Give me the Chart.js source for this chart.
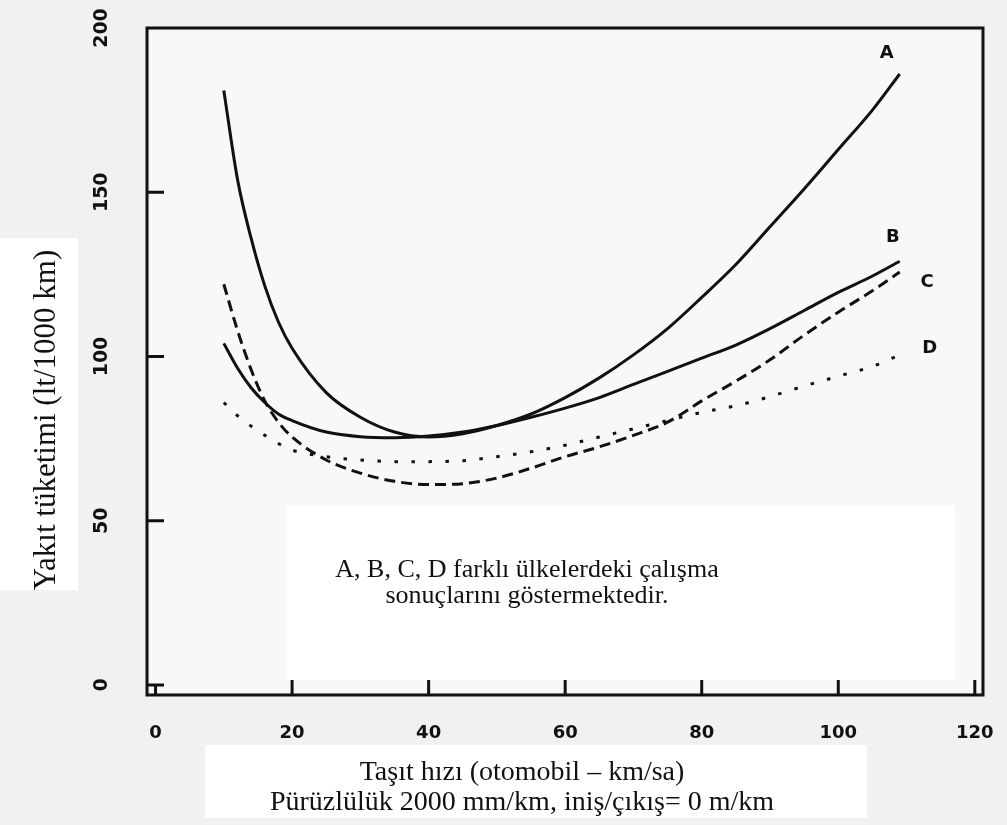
<!DOCTYPE html>
<html lang="tr">
<head>
<meta charset="utf-8">
<title>Yakıt tüketimi - taşıt hızı</title>
<script src="https://cdn.jsdelivr.net/npm/chart.js@4.4.1/dist/chart.umd.min.js"></script>
<style>
  html, body { margin: 0; padding: 0; background: #f1f1f1; }
  #wrap { width: 1007px; height: 825px; }
</style>
</head>
<body>
<div id="wrap"><canvas id="fuelChart" width="1007" height="825"></canvas></div>
<script>
// Hız (km/sa) ve her eğri için yakıt tüketimi (lt/1000 km)
const speeds  = [10, 12, 14, 16, 18, 20, 25, 30, 35, 40, 45, 50, 55, 60, 65, 70, 75, 80, 85, 90, 95, 100, 105, 109];
const seriesA = [181, 154, 136, 121.5, 110.5, 102.5, 89, 81.5, 77, 75.5, 76.5, 79, 82.5, 87.5, 93.5, 100.5, 108.5, 118, 128, 139.5, 151, 163, 175, 186];
const seriesB = [104, 96.5, 90.5, 86, 82.5, 80.5, 77, 75.6, 75.3, 75.8, 77, 79, 81.5, 84.3, 87.5, 91.5, 95.5, 99.5, 103.5, 108.5, 114, 119.5, 124.5, 129];
const seriesC = [122, 108, 96, 86.5, 80, 75.5, 68.5, 64.5, 62, 61, 61.3, 63, 66, 69.5, 72.5, 76, 80, 86.5, 92.5, 99, 106.5, 113.5, 120, 125.7];
const seriesD = [86, 82, 78.8, 76, 73.5, 71.5, 69.5, 68.5, 68, 68, 68.3, 69.5, 71, 73, 75.5, 78, 80.5, 83, 85, 87.8, 91, 94, 97, 100.5];
const curveNames = ['A', 'B', 'C', 'D'];
const xTicks = [0, 20, 40, 60, 80, 100, 120];
const yTicks = [0, 50, 100, 150, 200];

const yTitle = 'Yakıt tüketimi (lt/1000 km)';
const xTitle = ['Taşıt hızı (otomobil – km/sa)', 'Pürüzlülük 2000 mm/km, iniş/çıkış= 0 m/km'];
const note = ['A, B, C, D farklı ülkelerdeki çalışma', 'sonuçlarını göstermektedir.'];

function toPoints(values) {
    return speeds.map((s, i) => ({ x: s, y: values[i] }));
}

const ink = '#111111';

// Eğri harflerinin yeri (veri birimiyle)
const nameSpots = { A: [107.1, 192.4], B: [108.0, 136.4], C: [113.0, 122.7], D: [113.4, 102.6] };

// Kağıt, çerçeve, içe dönük çentikler ve yazılar
const paperPlugin = {
    id: 'paper',
    beforeDraw(chart) {
        const ctx = chart.ctx;
        ctx.save();
        ctx.fillStyle = '#f1f1f1';
        ctx.fillRect(0, 0, chart.width, chart.height);
        ctx.fillStyle = '#f8f8f8';
        ctx.fillRect(150, 31, 830, 661);   // grafik içi
        ctx.fillStyle = '#ffffff';
        ctx.fillRect(287, 505, 668, 175);  // açıklama kutusu
        ctx.fillRect(0, 238, 78, 352);     // y başlığı kutusu
        ctx.fillRect(205, 745, 662, 73);   // x başlığı kutusu
        ctx.restore();
    },
    afterDraw(chart) {
        const ctx = chart.ctx;
        const a = chart.chartArea;
        const xs = chart.scales.x;
        const ys = chart.scales.y;
        ctx.save();
        ctx.strokeStyle = ink;
        ctx.fillStyle = ink;
        ctx.lineWidth = 3;
        ctx.strokeRect(a.left, a.top, a.right - a.left, a.bottom - a.top);

        // y çentikleri ve etiketleri
        ctx.font = 'bold 19px "DejaVu Sans"';
        ctx.textAlign = 'center';
        ctx.textBaseline = 'middle';
        yTicks.forEach(v => {
            const py = ys.getPixelForValue(v);
            if (v < 200) {
                ctx.beginPath();
                ctx.moveTo(a.left, py);
                ctx.lineTo(a.left + 17, py);
                ctx.stroke();
            }
            ctx.save();
            ctx.translate(102, py);
            ctx.rotate(-Math.PI / 2);
            ctx.fillText(String(v), 0, 0);
            ctx.restore();
        });

        // x çentikleri ve etiketleri
        ctx.font = 'bold 18px "DejaVu Sans"';
        xTicks.forEach(v => {
            const px = xs.getPixelForValue(v);
            ctx.beginPath();
            ctx.moveTo(px, a.bottom);
            ctx.lineTo(px, a.bottom - (v === 0 ? 11 : 15));
            ctx.stroke();
            ctx.fillText(String(v), px, 733);
        });

        // eğri harfleri
        ctx.font = 'bold 18px "DejaVu Sans"';
        curveNames.forEach(n => {
            const s = nameSpots[n];
            ctx.fillText(n, xs.getPixelForValue(s[0]), ys.getPixelForValue(s[1]));
        });

        // açıklama metni
        ctx.font = '26px "Liberation Serif"';
        ctx.textBaseline = 'alphabetic';
        ctx.fillText(note[0], 527, 577);
        ctx.fillText(note[1], 527, 603);

        // x başlığı
        ctx.font = '28px "Liberation Serif"';
        ctx.fillText(xTitle[0], 522, 780);
        ctx.fillText(xTitle[1], 522, 810);

        // y başlığı
        ctx.font = '31px "Liberation Serif"';
        ctx.translate(55, 420);
        ctx.rotate(-Math.PI / 2);
        ctx.fillText(yTitle, 0, 0);
        ctx.restore();
    }
};

const lineStyle = { borderColor: ink, borderWidth: 3, pointRadius: 0, fill: false, cubicInterpolationMode: 'monotone' };

const ctx = document.getElementById('fuelChart').getContext('2d');
const fuelChart = new Chart(ctx, {
    type: 'line',
    data: {
        datasets: [
            Object.assign({ label: curveNames[0], data: toPoints(seriesA) }, lineStyle),
            Object.assign({ label: curveNames[1], data: toPoints(seriesB) }, lineStyle),
            Object.assign({ label: curveNames[2], data: toPoints(seriesC), borderDash: [11, 6] }, lineStyle),
            Object.assign({ label: curveNames[3], data: toPoints(seriesD), borderDash: [3.5, 13.5] }, lineStyle)
        ]
    },
    options: {
        responsive: false,
        animation: false,
        layout: { padding: { top: 28, right: 24, left: 0, bottom: 0 } },
        plugins: {
            legend: { display: false },
            tooltip: { enabled: false }
        },
        scales: {
            x: {
                type: 'linear',
                min: -1.25,
                max: 121.2,
                ticks: { display: false },
                grid: { display: false, drawTicks: false },
                border: { display: false },
                afterFit(s) { s.height = 130; }
            },
            y: {
                min: -3.04,
                max: 200,
                ticks: { display: false },
                grid: { display: false, drawTicks: false },
                border: { display: false },
                afterFit(s) { s.width = 147; }
            }
        }
    },
    plugins: [paperPlugin]
});
</script>
</body>
</html>
